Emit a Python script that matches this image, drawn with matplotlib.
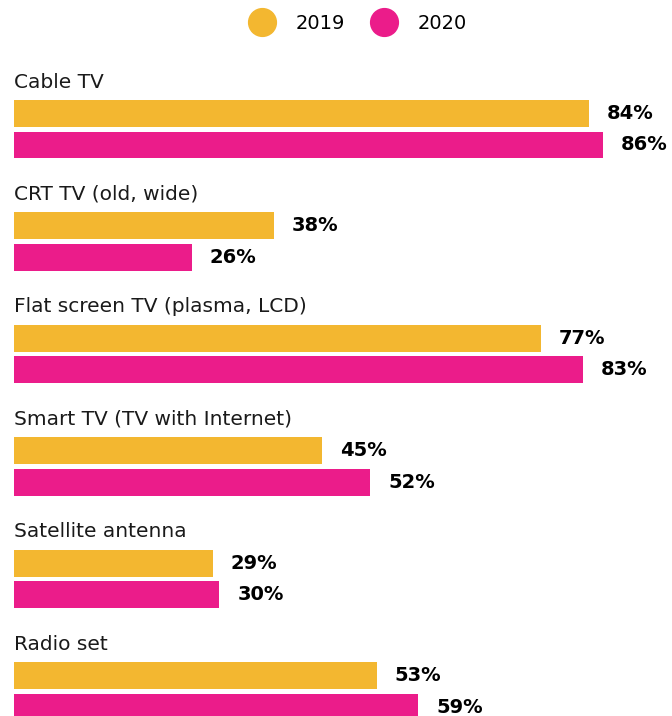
import matplotlib.pyplot as plt
from matplotlib.lines import Line2D
import numpy as np

categories = ["Cable TV", "CRT TV (old, wide)", "Flat screen TV (plasma, LCD)",
              "Smart TV (TV with Internet)", "Satellite antenna", "Radio set"]
vals_2019 = [84, 38, 77, 45, 29, 53]
vals_2020 = [86, 26, 83, 52, 30, 59]
years = ["2019", "2020"]
colors = ["#F3B730", "#EB1C8A"]

plt.rcParams['font.family'] = ['DejaVu Sans']

fig = plt.figure(figsize=(6.72, 7.16), dpi=100)
ax = fig.add_axes([0, 0, 1, 1])

pos = np.arange(len(categories))
h = 0.24
off = 0.28

ax.barh(pos, vals_2019, height=h, color=colors[0])
ax.barh(pos + off, vals_2020, height=h, color=colors[1])

for i, cat in enumerate(categories):
    ax.text(0, pos[i] - 0.28, cat, fontsize=14.5, va='center', ha='left', color='#1a1a1a')
    ax.text(vals_2019[i] + 2.6, pos[i], f"{vals_2019[i]}%", fontsize=14,
            fontweight='bold', va='center', ha='left', color='black')
    ax.text(vals_2020[i] + 2.6, pos[i] + off, f"{vals_2020[i]}%", fontsize=14,
            fontweight='bold', va='center', ha='left', color='black')

ax.set_xlim(-2.04, 96.06)
ax.set_ylim(5.356, -1.009)
ax.axis('off')

handles = [Line2D([], [], marker='o', linestyle='none', markersize=20,
                  markerfacecolor=c, markeredgecolor=c) for c in colors]
ax.legend(handles, years, loc='upper center', bbox_to_anchor=(0.528, 1.005),
          ncol=2, frameon=False, fontsize=14, handletextpad=0.75,
          columnspacing=1.0)

fig.savefig("out.png", dpi=100)
